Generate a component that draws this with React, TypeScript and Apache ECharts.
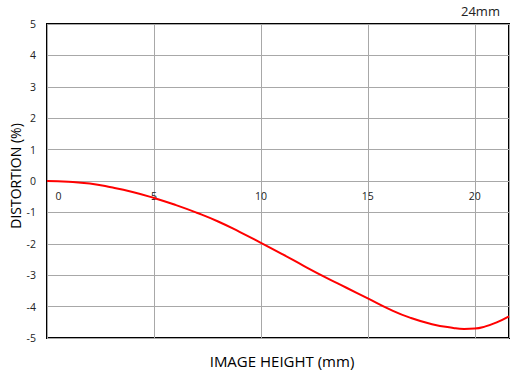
import React, { useEffect, useRef } from "react";
import * as echarts from "echarts";

const imageHeight = [0, 1, 2, 3, 4, 5, 6, 7, 8, 9, 10, 11, 12, 13, 14, 15, 16, 17, 18, 19, 19.5, 20, 20.5, 21, 21.6];
const distortion = [0, -0.02, -0.08, -0.2, -0.35, -0.54, -0.76, -1.01, -1.29, -1.62, -1.97, -2.33, -2.7, -3.06, -3.4, -3.74, -4.08, -4.36, -4.56, -4.68, -4.71, -4.7, -4.63, -4.51, -4.31];
const xTicks = [0, 5, 10, 15, 20];
const yTicks = [-5, -4, -3, -2, -1, 0, 1, 2, 3, 4, 5];
const focalLabel = "24mm";
const xTitle = "IMAGE HEIGHT (mm)";
const yTitle = "DISTORTION (%)";

const FONT = "'Open Sans', 'Noto Sans', sans-serif";

export default function App() {
  const ref = useRef<HTMLDivElement>(null);
  useEffect(() => {
    if (!ref.current) return;
    const chart = echarts.init(ref.current, null, { renderer: "svg" });
    chart.setOption({
      animation: false,
      backgroundColor: "#fff",
      grid: {
        left: 47,
        right: 7,
        top: 24,
        bottom: 32,
        show: true,
        borderColor: "#000",
        borderWidth: 2,
        backgroundColor: "transparent",
      },
      xAxis: {
        type: "value",
        min: 0,
        max: 21.6,
        interval: 5,
        offset: -157,
        axisLine: { show: false, onZero: false },
        axisTick: { show: false },
        splitLine: { show: true, lineStyle: { color: "#a8a8a8", width: 1 } },
        axisLabel: {
          show: true,
          margin: 9,
          fontSize: 10.5,
          fontFamily: FONT,
          color: "#222",
          showMaxLabel: false,
          formatter: (v: number) =>
            xTicks.includes(v) ? (v === 0 ? "{z|0}" : String(v)) : "",
          rich: {
            z: { padding: [0, 0, 0, 23], fontSize: 10.5, fontFamily: FONT, color: "#222" },
          },
        },
      },
      yAxis: {
        type: "value",
        min: yTicks[0],
        max: yTicks[yTicks.length - 1],
        interval: 1,
        axisLine: { show: false },
        axisTick: { show: false },
        splitLine: { show: true, lineStyle: { color: "#a8a8a8", width: 1 } },
        axisLabel: {
          margin: 11,
          fontSize: 10.5,
          fontFamily: FONT,
          color: "#222",
        },
      },
      graphic: [
        {
          type: "text",
          left: 461,
          top: 4,
          style: { text: focalLabel, fontSize: 13, fontFamily: FONT, fill: "#222" },
        },
        {
          type: "text",
          x: 282,
          y: 361,
          style: {
            text: xTitle,
            fontSize: 15,
            fontWeight: 500,
            fontFamily: FONT,
            fill: "#000",
            align: "center",
            verticalAlign: "middle",
          },
        },
        {
          type: "text",
          x: 15,
          y: 176,
          rotation: Math.PI / 2,
          style: {
            text: yTitle,
            fontSize: 14,
            fontWeight: 500,
            fontFamily: FONT,
            fill: "#000",
            align: "center",
            verticalAlign: "middle",
          },
        },
      ],
      series: [
        {
          type: "line",
          data: imageHeight.map((x, i) => [x, distortion[i]]),
          smooth: true,
          showSymbol: false,
          lineStyle: { color: "#ff0000", width: 2 },
          z: 5,
        },
      ],
    });
    return () => chart.dispose();
  }, []);
  return <div ref={ref} style={{ width: 516, height: 370, position: "absolute", left: 0, top: 0 }} />;
}
